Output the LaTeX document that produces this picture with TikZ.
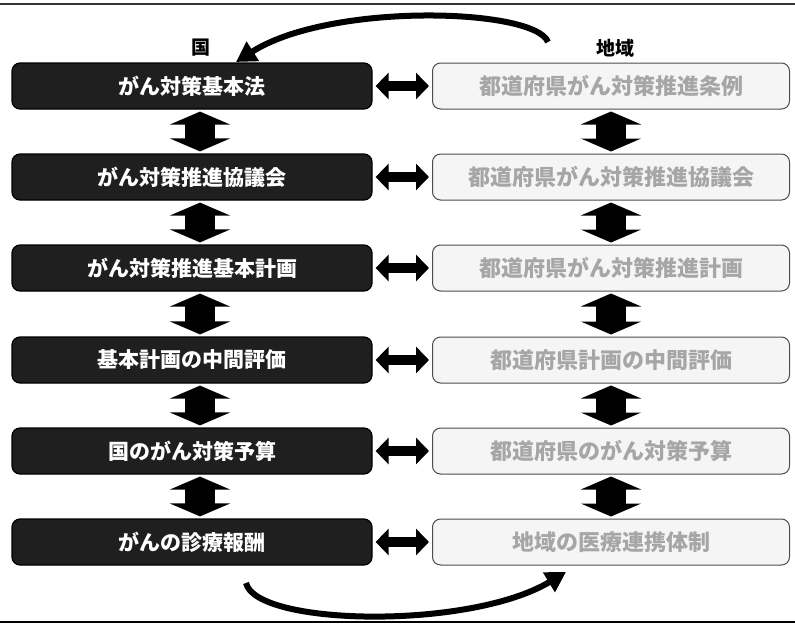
\documentclass[tikz,border=0pt]{standalone}
\usepackage{fontspec}
\newfontfamily\jp{Noto Sans CJK JP}
\usetikzlibrary{arrows.meta}
\begin{document}
\begin{tikzpicture}[x=1pt,y=-1pt,
  kuni/.style={draw=black,line width=1.2pt,fill=black!88,rounded corners=8pt,
    minimum width=360pt,minimum height=46pt,inner sep=0pt,
    text=white,font=\jp\bfseries\fontsize{21}{24}\selectfont},
  chiiki/.style={draw=black!70,line width=1pt,fill=black!4,rounded corners=8pt,
    minimum width=357pt,minimum height=46pt,inner sep=0pt,
    text=black!35,font=\jp\bfseries\fontsize{22}{24}\selectfont},
  head/.style={font=\jp\bfseries\fontsize{19}{22}\selectfont,text=black},
  harrow/.style={line width=10pt,{Triangle[width=26pt,length=13pt]}-{Triangle[width=26pt,length=13pt]},shorten <=3pt,shorten >=3pt},
  varrow/.style={line width=30pt,{Triangle[width=60pt,length=13pt]}-{Triangle[width=60pt,length=13pt]},shorten <=2pt,shorten >=2pt},
  bigcurve/.style={line width=6pt,-{Triangle[width=22pt,length=20pt]}}
]
\useasboundingbox (0,0) rectangle (795,629);
% frame lines
\coordinate (tl) at (0,4); \coordinate (tr) at (795,4);
\coordinate (bl) at (0,622); \coordinate (br) at (795,622);
\draw[line width=1.2pt,black!80] (tl) -- (tr);
\draw[line width=2.4pt] (bl) -- (br);
% headings
\node[head] (hk) at (201,48) {国};
\node[head] (hc) at (615,48) {地域};
% left column
\node[kuni] (l1) at (192,86) {がん対策基本法};
\node[kuni] (l2) at (192,177) {がん対策推進協議会};
\node[kuni] (l3) at (192,268) {がん対策推進基本計画};
\node[kuni] (l4) at (192,360) {基本計画の中間評価};
\node[kuni] (l5) at (192,451) {国のがん対策予算};
\node[kuni] (l6) at (192,542) {がんの診療報酬};
% right column
\node[chiiki] (r1) at (611,86) {都道府県がん対策推進条例};
\node[chiiki] (r2) at (611,177) {都道府県がん対策推進協議会};
\node[chiiki] (r3) at (611,268) {都道府県がん対策推進計画};
\node[chiiki] (r4) at (611,360) {都道府県計画の中間評価};
\node[chiiki] (r5) at (611,451) {都道府県のがん対策予算};
\node[chiiki] (r6) at (611,542) {地域の医療連携体制};
% horizontal arrows
\foreach \i in {1,...,6}{
  \draw[harrow] (l\i.east) -- (r\i.west);
}
% vertical arrows
\foreach \i/\j in {1/2,2/3,3/4,4/5,5/6}{
  \draw[varrow] ([xshift=8pt]l\i.south) -- ([xshift=8pt]l\j.north);
  \draw[varrow] (r\i.south) -- (r\j.north);
}
% curved arrows
\coordinate (ttail) at (548,42);
\coordinate (ttip) at (236,62);
\draw[bigcurve] (ttail) .. controls (535,8) and (330,2) .. (ttip);
\coordinate (btail) at (246,583);
\coordinate (btip) at (566,572);
\draw[bigcurve] (btail) .. controls (256,626) and (470,630) .. (btip);
\end{tikzpicture}
\end{document}
